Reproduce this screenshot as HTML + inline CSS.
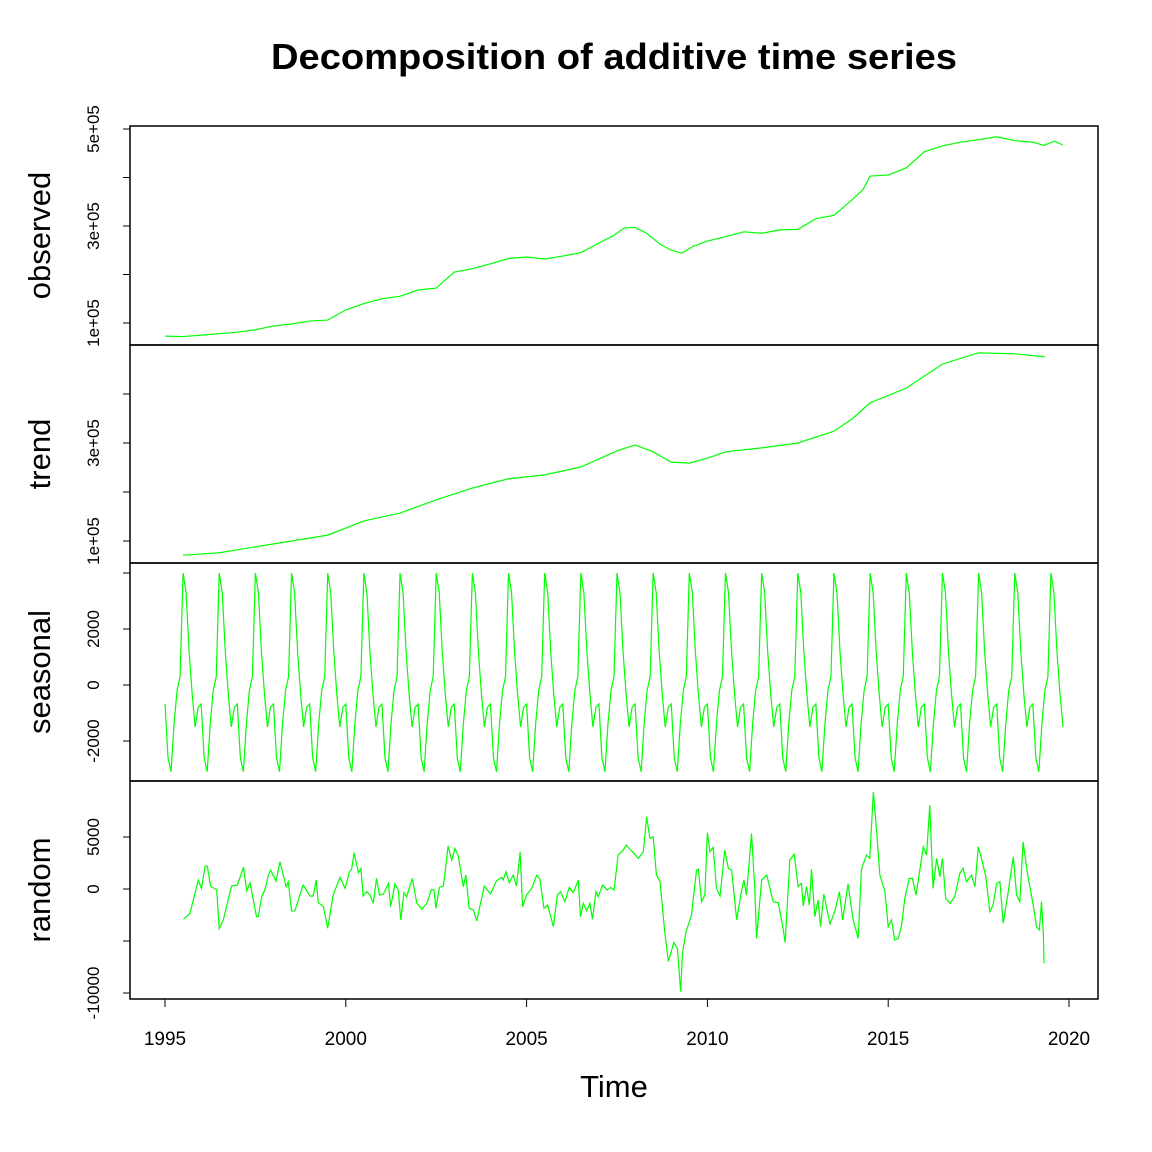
<!DOCTYPE html>
<html><head><meta charset="utf-8"><style>
html,body{margin:0;padding:0;background:#fff;}
svg{display:block;font-family:"Liberation Sans",Arial,sans-serif;}
</style></head><body>
<svg id="chart" width="1152" height="1152" viewBox="0 0 1152 1152" xmlns="http://www.w3.org/2000/svg">
<rect x="0" y="0" width="1152" height="1152" fill="#fff"/>
<text x="614" y="69" text-anchor="middle" font-size="36" font-weight="bold" textLength="686" lengthAdjust="spacingAndGlyphs">Decomposition of additive time series</text>
<text x="614" y="1097" text-anchor="middle" font-size="31">Time</text>
<g id="plots"></g>
</svg>
<script>
// ---- data ----
const xTicks = [1995, 2000, 2005, 2010, 2015, 2020];
const observedYears = [1995.0,1995.5,1996.0,1996.5,1997.0,1997.5,1998.0,1998.5,1999.0,1999.5,2000.0,2000.5,2001.0,2001.5,2002.0,2002.5,2003.0,2003.5,2004.0,2004.5,2005.0,2005.5,2006.0,2006.5,2007.0,2007.4,2007.7,2008.0,2008.3,2008.7,2009.0,2009.3,2009.6,2010.0,2010.5,2011.0,2011.5,2012.0,2012.5,2013.0,2013.5,2014.0,2014.3,2014.5,2015.0,2015.5,2016.0,2016.5,2017.0,2017.5,2018.0,2018.5,2019.0,2019.3,2019.6,2019.83];
const observedValues = [73000,72000,75000,78000,81000,86000,94000,98000,104000,106000,127000,140000,150000,155000,168000,172000,205000,212000,222000,233000,236000,232000,238000,245000,265000,280000,296000,297000,286000,262000,250000,244000,258000,269000,278000,288000,285000,292000,293000,315000,322000,354000,375000,403000,405000,420000,453000,465000,473000,478000,484000,476000,473000,466000,475000,467000];
const trendYears = [1995.5,1996.5,1997.5,1998.5,1999.5,2000.5,2001.5,2002.5,2003.5,2004.5,2005.5,2006.5,2007.5,2008.0,2008.5,2009.0,2009.5,2010.0,2010.5,2011.5,2012.5,2013.5,2014.0,2014.5,2015.5,2016.5,2017.5,2018.5,2019.33];
const trendValues = [71000,76000,88000,100000,112000,141000,157000,184000,208000,227000,235000,251000,284000,296000,282000,261000,259000,269000,282000,290000,300000,324000,349000,382000,412000,461000,484000,482000,476000];
const seasonalPattern = [-680,-2600,-3100,-1400,-200,300,4000,3300,1200,-300,-1500,-800];
const seasonalStart = 1995.0;
const seasonalCount = 299;
const randomYears = [1995.51,1995.69,1995.92,1996.01,1996.11,1996.17,1996.26,1996.43,1996.50,1996.61,1996.84,1997.00,1997.17,1997.26,1997.35,1997.53,1997.58,1997.67,1997.76,1997.86,1997.92,1998.07,1998.18,1998.35,1998.41,1998.50,1998.59,1998.82,1999.01,1999.10,1999.18,1999.24,1999.38,1999.50,1999.65,1999.84,1999.98,2000.10,2000.16,2000.23,2000.35,2000.42,2000.48,2000.58,2000.67,2000.76,2000.85,2000.93,2001.04,2001.18,2001.24,2001.36,2001.45,2001.52,2001.61,2001.68,2001.84,2001.96,2002.10,2002.24,2002.37,2002.44,2002.49,2002.59,2002.70,2002.83,2002.93,2003.02,2003.11,2003.25,2003.32,2003.41,2003.53,2003.62,2003.83,2004.00,2004.17,2004.31,2004.35,2004.43,2004.52,2004.63,2004.72,2004.82,2004.89,2005.00,2005.14,2005.28,2005.37,2005.48,2005.58,2005.74,2005.85,2005.94,2006.06,2006.18,2006.29,2006.43,2006.49,2006.57,2006.66,2006.75,2006.82,2006.92,2006.98,2007.10,2007.23,2007.32,2007.42,2007.53,2007.67,2007.76,2007.86,2007.95,2008.09,2008.23,2008.32,2008.41,2008.50,2008.59,2008.69,2008.82,2008.92,2009.07,2009.17,2009.26,2009.31,2009.41,2009.56,2009.70,2009.75,2009.84,2009.93,2010.00,2010.07,2010.16,2010.25,2010.35,2010.48,2010.58,2010.67,2010.81,2010.94,2011.01,2011.08,2011.22,2011.31,2011.36,2011.50,2011.64,2011.82,2011.96,2012.10,2012.15,2012.28,2012.40,2012.51,2012.60,2012.65,2012.74,2012.82,2012.88,2012.97,2013.06,2013.13,2013.22,2013.39,2013.53,2013.65,2013.74,2013.89,2014.03,2014.17,2014.26,2014.40,2014.49,2014.59,2014.68,2014.77,2014.91,2015.00,2015.09,2015.18,2015.28,2015.37,2015.46,2015.58,2015.67,2015.77,2015.86,2015.97,2016.06,2016.15,2016.24,2016.34,2016.43,2016.50,2016.59,2016.71,2016.84,2016.98,2017.07,2017.17,2017.30,2017.40,2017.49,2017.58,2017.70,2017.81,2017.90,2018.00,2018.09,2018.18,2018.32,2018.46,2018.55,2018.64,2018.73,2018.85,2019.01,2019.10,2019.18,2019.24,2019.29,2019.31];
const randomValues = [-2900,-2350,860,60,2200,2200,290,-100,-3800,-3000,290,380,2080,-190,600,-2650,-2650,-800,-100,1340,1820,770,2620,220,700,-2110,-2110,380,-670,-670,860,-1310,-1700,-3780,-580,1120,60,1660,1890,3490,1570,1980,-670,-260,-580,-1380,1020,-580,-480,540,-1700,480,-100,-2980,-350,-740,1020,-1310,-1950,-1380,-30,-100,-1860,160,290,4130,2780,3900,3170,220,1340,-1860,-2020,-3070,290,-480,800,1120,860,1660,610,1340,290,3550,-1700,-580,60,1340,930,-1860,-1540,-3620,-580,-260,-1220,160,-350,860,-2660,-1380,-2080,-1380,-2910,-260,-740,380,-100,160,-100,3260,3740,4220,3810,3490,2940,3580,6940,4860,5020,1340,700,-4100,-6980,-5150,-5700,-9860,-6180,-4100,-2500,1820,1890,-1220,-580,5410,3580,4000,60,-670,3740,1980,1820,-2980,-260,860,-580,5340,60,-4740,860,1340,-1220,-1310,-3940,-5150,2780,3360,220,540,-1630,220,-1540,1890,-2660,-1060,-3620,-480,-3360,-2080,-260,-2980,480,-2980,-4740,1890,3260,2940,9340,5500,1340,-260,-3620,-2980,-4900,-4740,-3460,-900,1020,1020,-580,1500,4060,3260,8060,60,2940,1180,2940,-900,-1380,-740,1500,1980,700,1340,220,4060,2940,1180,-2180,-1540,540,700,-3300,-260,3100,-580,-1220,4540,1500,-1540,-3620,-3940,-1220,-4260,-7140];

// ---- layout / scales ----
const NS = "http://www.w3.org/2000/svg";
const plots = document.getElementById('plots');
const L = 130, R = 1098;
function xScale(yr){ return 165 + (yr - 1995) * (1069 - 165) / 25; }
function mk(tag, attrs){ const e = document.createElementNS(NS, tag); for (const k in attrs) e.setAttribute(k, attrs[k]); return e; }

const panels = [
  {name:'observed', top:126, bottom:345, v0:100000, y0:323, v1:500000, y1:129, ticks:[100000,200000,300000,400000,500000], labels:{100000:'1e+05',300000:'3e+05',500000:'5e+05'}},
  {name:'trend', top:345, bottom:563, v0:100000, y0:541, v1:300000, y1:443, ticks:[100000,200000,300000,400000], labels:{100000:'1e+05',300000:'3e+05'}},
  {name:'seasonal', top:563, bottom:781, v0:0, y0:685, v1:2000, y1:629, ticks:[-2000,0,2000,4000], labels:{'-2000':'-2000',0:'0',2000:'2000'}},
  {name:'random', top:781, bottom:999, v0:0, y0:889, v1:5000, y1:837, ticks:[-10000,-5000,0,5000], labels:{'-10000':'-10000',0:'0',5000:'5000'}}
];
panels.forEach(p => { p.y = v => p.y0 + (v - p.v0) * (p.y1 - p.y0) / (p.v1 - p.v0); });

function drawLine(p, xs, ys, nm){
  let d = '';
  for (let i = 0; i < xs.length; i++) d += (i ? 'L' : 'M') + xScale(xs[i]).toFixed(2) + ',' + p.y(ys[i]).toFixed(2);
  const path = mk('path', {d:d, fill:'none', stroke:'#00ff00', 'stroke-width':'1.2'});
  
  
  plots.appendChild(path);
}

panels.forEach(p => {
  p.ticks.forEach(t => {
    const y = p.y(t);
    const tk = mk('line', {x1:L, x2:L-7, y1:y, y2:y, stroke:'#000', 'stroke-width':'1'});
    
    
    plots.appendChild(tk);
    const lab = p.labels[t];
    if (lab !== undefined) {
      const tx = mk('text', {x:0, y:0, 'font-size':'17', 'text-anchor':'middle', transform:'translate(99,' + y + ') rotate(-90)'});
      tx.textContent = lab;
      
      
      plots.appendChild(tx);
    }
  });
  const ax = mk('line', {x1:L, x2:L, y1:p.y(p.ticks[0]), y2:p.y(p.ticks[p.ticks.length-1]), stroke:'#000', 'stroke-width':'1'});
  
  
  plots.appendChild(ax);
  const yl = mk('text', {x:0, y:0, 'font-size':'31', 'text-anchor':'middle', transform:'translate(50,' + ((p.top + p.bottom) / 2) + ') rotate(-90)'});
  yl.textContent = p.name;
  
  
  plots.appendChild(yl);
});

drawLine(panels[0], observedYears, observedValues, 'observed-line');
drawLine(panels[1], trendYears, trendValues, 'trend-line');
const sx = [], sy = [];
for (let i = 0; i < seasonalCount; i++) { sx.push(seasonalStart + i / 12); sy.push(seasonalPattern[i % 12]); }
drawLine(panels[2], sx, sy, 'seasonal-line');
drawLine(panels[3], randomYears, randomValues, 'random-line');

panels.forEach(p => {
  const r = mk('rect', {x:L, y:p.top, width:R-L, height:p.bottom-p.top, fill:'none', stroke:'#000', 'stroke-width':'1.5'});
  
  
  plots.appendChild(r);
});

const xa = mk('line', {x1:xScale(xTicks[0]), x2:xScale(xTicks[xTicks.length-1]), y1:999, y2:999, stroke:'#000'});


plots.appendChild(xa);
xTicks.forEach(t => {
  const x = xScale(t);
  const tk = mk('line', {x1:x, x2:x, y1:999, y2:1007, stroke:'#000'});
  
  
  plots.appendChild(tk);
  const tx = mk('text', {x:x, y:1045, 'font-size':'19', 'text-anchor':'middle'});
  tx.textContent = t;
  
  
  plots.appendChild(tx);
});
</script>
</body></html>
